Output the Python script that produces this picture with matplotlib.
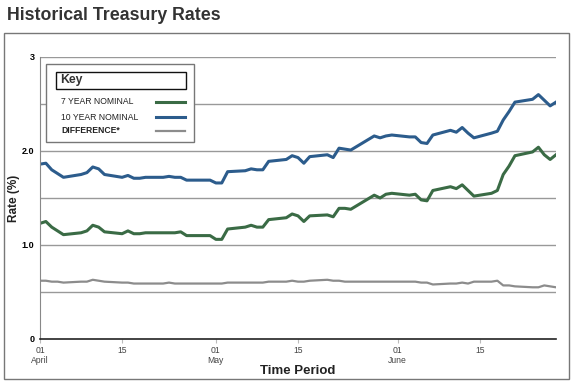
import numpy as np
import pandas as pd
import matplotlib
matplotlib.use('Agg')
import matplotlib.pyplot as plt
from matplotlib.patches import Rectangle
from matplotlib.lines import Line2D

#Data (2013 business days)
dates = pd.bdate_range('2013-04-01', '2013-06-28')
dates = dates[dates != pd.Timestamp('2013-05-27')]

ten_year = [1.86, 1.87, 1.80, 1.76, 1.72, 1.75, 1.77, 1.83, 1.81, 1.75,
            1.72, 1.74, 1.71, 1.71, 1.72, 1.72, 1.73, 1.72, 1.72, 1.69, 1.69, 1.69,
            1.66, 1.66, 1.78, 1.79, 1.81, 1.80, 1.80, 1.89, 1.91, 1.95, 1.93, 1.87,
            1.94, 1.96, 1.93, 2.03, 2.02, 2.01, 2.16, 2.14, 2.16, 2.17,
            2.15, 2.15, 2.09, 2.08, 2.17, 2.22, 2.20, 2.25, 2.19, 2.14,
            2.19, 2.21, 2.33, 2.42, 2.52, 2.55, 2.60, 2.54, 2.48, 2.52]

seven_year = [1.23, 1.25, 1.19, 1.15, 1.11, 1.13, 1.15, 1.21, 1.19, 1.14,
              1.12, 1.15, 1.12, 1.12, 1.13, 1.13, 1.13, 1.13, 1.14, 1.10, 1.10, 1.10,
              1.06, 1.06, 1.17, 1.19, 1.21, 1.19, 1.19, 1.27, 1.29, 1.33, 1.31, 1.25,
              1.31, 1.32, 1.30, 1.39, 1.39, 1.38, 1.53, 1.50, 1.54, 1.55,
              1.53, 1.54, 1.48, 1.47, 1.58, 1.62, 1.60, 1.64, 1.58, 1.52,
              1.55, 1.58, 1.75, 1.84, 1.95, 1.99, 2.04, 1.96, 1.91, 1.96]

difference = [0.62, 0.62, 0.61, 0.61, 0.60, 0.61, 0.61, 0.63, 0.62, 0.61,
              0.60, 0.60, 0.59, 0.59, 0.59, 0.59, 0.60, 0.59, 0.59, 0.59, 0.59, 0.59,
              0.59, 0.59, 0.60, 0.60, 0.60, 0.60, 0.60, 0.61, 0.61, 0.62, 0.61, 0.61,
              0.62, 0.63, 0.62, 0.62, 0.61, 0.61, 0.61, 0.61, 0.61, 0.61,
              0.61, 0.61, 0.60, 0.60, 0.58, 0.59, 0.59, 0.60, 0.59, 0.61,
              0.61, 0.62, 0.57, 0.57, 0.56, 0.55, 0.55, 0.57, 0.56, 0.55]

tick_dates = pd.to_datetime(['2013-04-01', '2013-04-15', '2013-05-01',
                             '2013-05-15', '2013-06-01', '2013-06-15'])
tick_labels = ['01\nApril', '15', '01\nMay', '15', '01\nJune', '15']
legend_labels = ['7 YEAR NOMINAL', '10 YEAR NOMINAL', 'DIFFERENCE*']

col_7 = '#3a6b45'
col_10 = '#2c5c8c'
col_diff = '#8c8c8c'

W, H = 575, 390
fig = plt.figure(figsize=(W / 100, H / 100), dpi=100)
plt.rcParams['font.family'] = ['Liberation Sans', 'DejaVu Sans']

#pixel helpers (top-left origin)
def fx(px):
    return px / W

def fy(py):
    return 1 - py / H

#outer frame and title
fig.add_artist(Rectangle((fx(4), fy(379)), fx(565), (379 - 33) / H,
                         transform=fig.transFigure, fill=False, ec='#777777', lw=1))
fig.text(fx(7), fy(16), 'Historical Treasury Rates', fontsize=12.8, fontweight='bold',
         color='#333333', va='center', ha='left')

ax = fig.add_axes([fx(40), fy(339), fx(556 - 40), (339 - 57) / H])
ax.plot(dates, difference, color=col_diff, lw=1.6, solid_joinstyle='round')
ax.plot(dates, seven_year, color=col_7, lw=2.2, solid_joinstyle='round')
ax.plot(dates, ten_year, color=col_10, lw=2.2, solid_joinstyle='round')

ax.set_xlim(pd.Timestamp('2013-04-01'), pd.Timestamp('2013-06-28'))
ax.set_ylim(0, 3)
ax.set_yticks([0, 1, 2, 3])
ax.set_yticklabels(['0', '1.0', '2.0', '3'], fontsize=6.5, fontweight='bold')
for yv in np.arange(0.5, 3.01, 0.5):
    ax.axhline(yv, color='#999999', lw=1, zorder=0)
ax.set_xticks(tick_dates)
ax.set_xticklabels(tick_labels, fontsize=6.2, color='#444444', linespacing=1.1)
ax.tick_params(axis='x', length=3, color='#bbbbbb', pad=2)
ax.tick_params(axis='y', length=0, pad=4)
for s in ['top', 'right']:
    ax.spines[s].set_visible(False)
ax.spines['left'].set_color('#888888')
ax.spines['bottom'].set_color('#222222')
ax.spines['bottom'].set_linewidth(1.2)

fig.text(fx(14), fy(198), 'Rate (%)', rotation=90, fontsize=8.5, fontweight='bold',
         va='center', ha='center', color='#222222')
fig.text(fx(298), fy(371), 'Time Period', fontsize=9.5, fontweight='bold',
         va='center', ha='center', color='#222222')

#key box
fig.add_artist(Rectangle((fx(46), fy(142)), fx(194 - 46), (142 - 64) / H,
                         transform=fig.transFigure, fc='white', ec='#777777', lw=1, zorder=5))
fig.add_artist(Rectangle((fx(56), fy(89)), fx(186 - 56), (89 - 72) / H,
                         transform=fig.transFigure, fc='white', ec='#111111', lw=1, zorder=6))
fig.text(fx(60), fy(80.5), 'Key', fontsize=8.8, fontweight='bold', va='center',
         color='#333333', zorder=7)
for lab, c, py, bold in zip(legend_labels, [col_7, col_10, col_diff], [102, 117, 131],
                            [False, False, True]):
    fig.text(fx(61), fy(py), lab, fontsize=6.2, va='center', color='#222222',
             fontweight='bold' if bold else 'normal', zorder=7)
    fig.add_artist(Line2D([fx(156), fx(185)], [fy(py), fy(py)], transform=fig.transFigure,
                          color=c, lw=2.2 if not bold else 1.6, zorder=7))

fig.savefig('out.png', dpi=100)
